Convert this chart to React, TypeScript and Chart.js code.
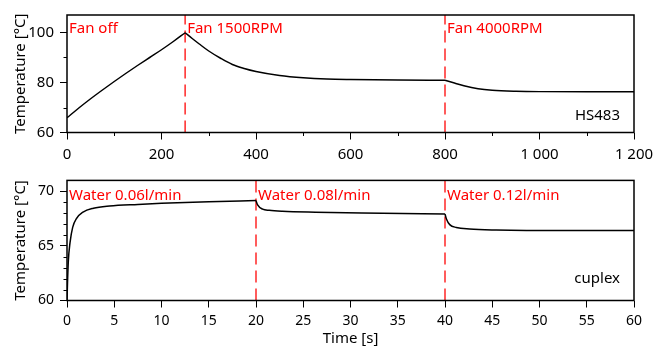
import React, { useEffect, useRef } from 'react';
import { Chart, registerables } from 'chart.js';

Chart.register(...registerables);

const FONT = '"Noto Sans", "Open Sans", sans-serif';

// ---------- Top panel: HS483 (fan cooled) ----------
const hsTimeHeat = [0, 25, 50, 75, 100, 125, 150, 175, 200, 225, 250];
const hsTempHeat = [65.9, 69.8, 73.5, 77.0, 80.4, 83.7, 86.9, 90.0, 93.1, 96.4, 99.9];
const hsTimeFan1 = [250, 265, 280, 300, 325, 350, 375, 400, 450, 500, 550, 600, 700, 800];
const hsTempFan1 = [99.9, 97.6, 95.4, 92.6, 89.7, 87.2, 85.6, 84.4, 82.8, 81.9, 81.4, 81.2, 81.0, 80.9];
const hsTimeFan2 = [800, 820, 840, 870, 900, 950, 1000, 1100, 1200];
const hsTempFan2 = [80.9, 79.8, 78.7, 77.5, 76.9, 76.5, 76.35, 76.3, 76.3];
const hsEventTimes = [0, 250, 800];
const hsEventLabels = ['Fan off', 'Fan 1500RPM', 'Fan 4000RPM'];
const hsXTicks = [0, 200, 400, 600, 800, 1000, 1200];
const hsXMinor = [100, 300, 500, 700, 900, 1100];
const hsYTicks = [60, 80, 100];
const hsYMinor = [70, 90];
const hsName = 'HS483';

// ---------- Bottom panel: cuplex (water cooled) ----------
const cxTime1 = [0, 0.05, 0.14, 0.32, 0.6, 1.0, 1.7, 2.8, 4.5, 7.5, 10, 15, 20];
const cxTemp1 = [60.0, 61.5, 63.6, 65.3, 66.7, 67.5, 68.1, 68.45, 68.65, 68.8, 68.9, 69.05, 69.15];
const cxTime2 = [20, 20.17, 20.7, 21.4, 22.8, 26.3, 33.4, 40];
const cxTemp2 = [69.15, 68.75, 68.37, 68.26, 68.17, 68.09, 68.0, 67.92];
const cxTime3 = [40, 40.15, 40.5, 41.2, 42.6, 45.4, 52.4, 60];
const cxTemp3 = [67.92, 67.46, 66.95, 66.69, 66.55, 66.46, 66.4, 66.4];
const cxEventTimes = [0, 20, 40];
const cxEventLabels = ['Water 0.06l/min', 'Water 0.08l/min', 'Water 0.12l/min'];
const cxXTicks = [0, 5, 10, 15, 20, 25, 30, 35, 40, 45, 50, 55, 60];
const cxYTicks = [60, 65, 70];
const cxYMinor = [61, 62, 63, 64, 66, 67, 68, 69];
const cxName = 'cuplex';

const fmt = (v: number) =>
  v >= 1000 ? `${Math.floor(v / 1000)} ${String(v % 1000).padStart(3, '0')}` : String(v);

const seg = (xs: number[], ys: number[]) => ({
  data: xs.map((x, i) => ({ x, y: ys[i] })),
  borderColor: '#000',
  borderWidth: 1.5,
  pointRadius: 0,
  fill: false,
  cubicInterpolationMode: 'monotone' as const,
});

const decorPlugin = {
  id: 'decor',
  beforeDatasetsDraw(chart: any, _a: any, opts: any) {
    const { ctx, chartArea, scales } = chart;
    ctx.save();
    ctx.strokeStyle = 'rgba(255,0,0,0.85)';
    ctx.lineWidth = 1.5;
    ctx.setLineDash([12, 6]);
    for (const t of opts.events) {
      if (t <= scales.x.min) continue;
      const px = scales.x.getPixelForValue(t);
      ctx.beginPath();
      ctx.moveTo(px, chartArea.bottom);
      ctx.lineTo(px, chartArea.top);
      ctx.stroke();
    }
    ctx.restore();
  },
  afterDraw(chart: any, _a: any, opts: any) {
    const { ctx, chartArea, scales } = chart;
    ctx.save();
    // frame
    ctx.strokeStyle = '#000';
    ctx.lineWidth = 1.5;
    ctx.strokeRect(chartArea.left, chartArea.top, chartArea.right - chartArea.left, chartArea.bottom - chartArea.top);
    // minor ticks
    ctx.lineWidth = 1;
    ctx.beginPath();
    for (const v of opts.minorX) {
      const px = Math.round(scales.x.getPixelForValue(v)) + 0.5;
      ctx.moveTo(px, chartArea.bottom);
      ctx.lineTo(px, chartArea.bottom + 3.5);
    }
    for (const v of opts.minorY) {
      const py = Math.round(scales.y.getPixelForValue(v)) + 0.5;
      ctx.moveTo(chartArea.left, py);
      ctx.lineTo(chartArea.left - 3.5, py);
    }
    ctx.stroke();
    // event labels
    ctx.font = `15px ${FONT}`;
    ctx.fillStyle = '#ff0000';
    ctx.textAlign = 'left';
    ctx.textBaseline = 'alphabetic';
    opts.events.forEach((t: number, i: number) => {
      const px = scales.x.getPixelForValue(t);
      ctx.fillText(opts.labels[i], px + 2, chartArea.top + opts.labelDy);
    });
    // name
    ctx.fillStyle = '#000';
    ctx.textAlign = 'right';
    ctx.fillText(opts.name, chartArea.right - 14, chartArea.bottom - opts.nameDy);
    ctx.restore();
  },
};

function makeScales(p: any) {
  return {
    x: {
      type: 'linear',
      min: p.xMin,
      max: p.xMax,
      afterBuildTicks: (s: any) => {
        s.ticks = p.xTicks.map((v: number) => ({ value: v }));
      },
      afterFit: (s: any) => {
        s.height = p.xHeight;
      },
      grid: { drawOnChartArea: false, drawTicks: true, tickLength: 7, tickColor: '#000', tickWidth: 1 },
      border: { display: false },
      ticks: {
        color: '#000',
        font: { family: FONT, size: p.xFont },
        padding: p.xPad,
        maxRotation: 0,
        autoSkip: false,
        callback: (v: any) => fmt(Number(v)),
      },
      title: p.xTitle
        ? { display: true, text: p.xTitle, color: '#000', font: { family: FONT, size: 15 }, padding: { top: 0, bottom: 0 } }
        : { display: false },
    },
    y: {
      type: 'linear',
      min: p.yMin,
      max: p.yMax,
      afterBuildTicks: (s: any) => {
        s.ticks = p.yTicks.map((v: number) => ({ value: v }));
      },
      afterFit: (s: any) => {
        s.width = 67;
      },
      grid: { drawOnChartArea: false, drawTicks: true, tickLength: 7, tickColor: '#000', tickWidth: 1 },
      border: { display: false },
      ticks: { color: '#000', font: { family: FONT, size: p.yFont }, padding: 6, callback: (v: any) => String(v) },
      title: {
        display: true,
        text: 'Temperature [°C]',
        color: '#000',
        font: { family: FONT, size: 15 },
        padding: { top: 12, bottom: 0 },
      },
    },
  };
}

function Panel(props: { top: number; height: number; config: any }) {
  const ref = useRef<HTMLCanvasElement>(null);
  useEffect(() => {
    const chart = new Chart(ref.current as HTMLCanvasElement, props.config);
    return () => chart.destroy();
  }, []);
  return (
    <canvas
      ref={ref}
      width={662}
      height={props.height}
      style={{ position: 'absolute', left: 0, top: props.top, width: 662, height: props.height, display: 'block' }}
    />
  );
}

export default function App() {
  const topConfig: any = {
    type: 'line',
    data: {
      datasets: [seg(hsTimeHeat, hsTempHeat), seg(hsTimeFan1, hsTempFan1), seg(hsTimeFan2, hsTempFan2)],
    },
    options: {
      responsive: false,
      animation: false,
      layout: { padding: { top: 10, right: 28, left: 0, bottom: 0 } },
      plugins: {
        legend: { display: false },
        tooltip: { enabled: false },
        decor: {
          events: hsEventTimes,
          labels: hsEventLabels,
          minorX: hsXMinor,
          minorY: hsYMinor,
          name: hsName,
          labelDy: 17.5,
          nameDy: 12.5,
        },
      },
      scales: makeScales({
        xMin: 0,
        xMax: 1200,
        xTicks: hsXTicks,
        xHeight: 33.5,
        xFont: 15,
        xPad: 6,
        yMin: 60,
        yMax: 107,
        yTicks: hsYTicks,
        yFont: 15,
      }),
    },
    plugins: [decorPlugin],
  };
  const bottomConfig: any = {
    type: 'line',
    data: {
      datasets: [seg(cxTime1, cxTemp1), seg(cxTime2, cxTemp2), seg(cxTime3, cxTemp3)],
    },
    options: {
      responsive: false,
      animation: false,
      layout: { padding: { top: 6, right: 28, left: 0, bottom: 0 } },
      plugins: {
        legend: { display: false },
        tooltip: { enabled: false },
        decor: {
          events: cxEventTimes,
          labels: cxEventLabels,
          minorX: [],
          minorY: cxYMinor,
          name: cxName,
          labelDy: 19.5,
          nameDy: 17.5,
        },
      },
      scales: makeScales({
        xMin: 0,
        xMax: 60,
        xTicks: cxXTicks,
        xHeight: 47.5,
        xFont: 14,
        xPad: 5,
        xTitle: 'Time [s]',
        yMin: 60,
        yMax: 71,
        yTicks: cxYTicks,
        yFont: 14,
      }),
    },
    plugins: [decorPlugin],
  };
  return (
    <div style={{ position: 'fixed', left: 0, top: 0, width: 662, height: 348, background: '#fff' }}>
      <Panel top={0} height={166} config={topConfig} />
      <Panel top={166} height={182} config={bottomConfig} />
    </div>
  );
}
